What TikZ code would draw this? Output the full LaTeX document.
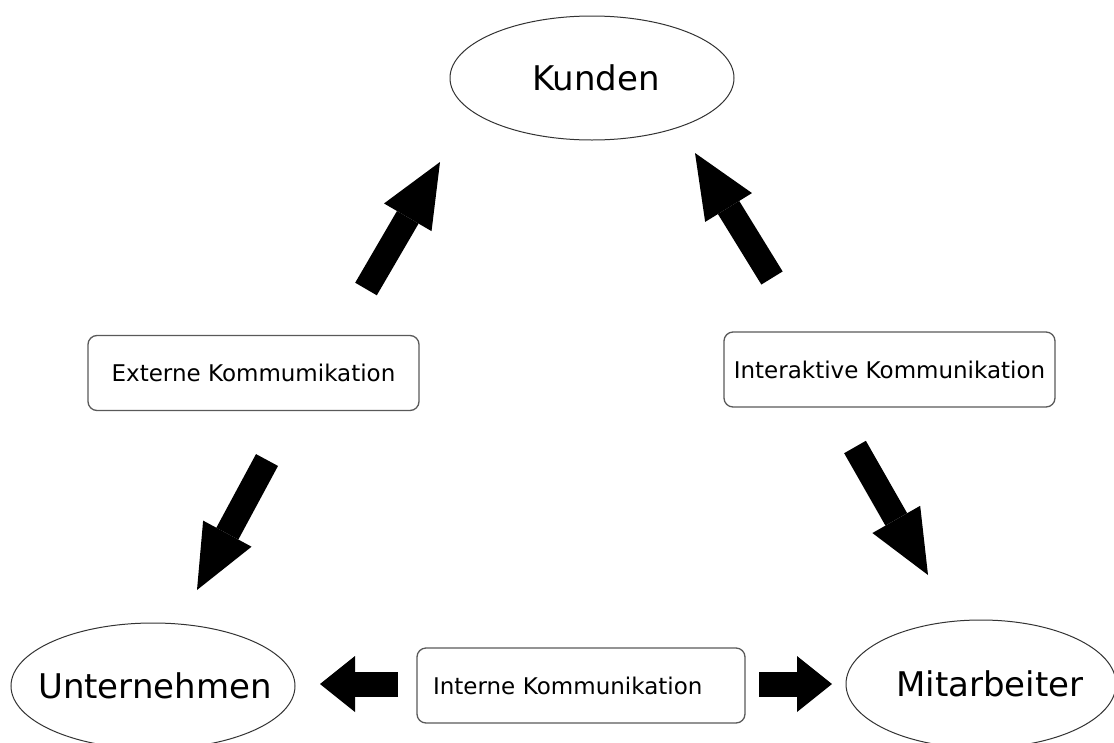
\documentclass[tikz,border=0pt]{standalone}
\usepackage{fontspec}
\setmainfont{DejaVu Sans}
\usepackage{tikz}
\usetikzlibrary{arrows.meta}
\usetikzlibrary{positioning,shapes.geometric}

\tikzset{
  party/.style={ellipse, draw=black!80, line width=1pt, inner sep=0pt,
    font=\fontsize{34}{40}\selectfont},
  kombox/.style={rectangle, draw=black!65, line width=1.3pt, rounded corners=9pt,
    minimum height=75pt, inner sep=0pt, font=\fontsize{23}{28}\selectfont},
  slantarrow/.style={line width=25pt,
    -{Triangle[length=64pt,width=55pt,line width=0pt]}},
  flatarrow/.style={line width=25pt,
    -{Triangle[length=35pt,width=56pt,line width=0pt]}}
}

\begin{document}
\begin{tikzpicture}[x=1pt,y=-1pt]
      \useasboundingbox (0,0) rectangle (1114,742);
      \node[party, minimum width=284pt, minimum height=124pt] (kunden) at (592,78) {\makebox[0pt]{\hspace{8pt}Kunden}};
      \node[party, minimum width=284pt, minimum height=126pt] (unternehmen) at (153,686) {\makebox[0pt]{\hspace{4pt}Unternehmen}};
      \node[party, minimum width=270pt, minimum height=128pt] (mitarbeiter) at (981,684) {\makebox[0pt]{\hspace{18pt}Mitarbeiter}};
      \node[kombox, minimum width=331pt] (extern) at (253.5,373) {Externe Kommumikation};
      \node[kombox, minimum width=331pt] (interaktiv) at (889.5,369.5) {Interaktive Kommunikation};
      \node[kombox, text width=296pt, inner xsep=16pt, align=left] (intern) at (581,685.5) {Interne Kommunikation};
      \coordinate (ext up) at (366,289);
      \coordinate (ext tip) at (440,162);
      \coordinate (int up) at (772,278);
      \coordinate (int tip) at (695,153);
      \coordinate (ext down) at (267,460);
      \coordinate (unt tip) at (197,590);
      \coordinate (int down) at (855,447);
      \coordinate (mit tip) at (928,575);
      \coordinate (intern left) at (398,684);
      \coordinate (left tip) at (320,684);
      \coordinate (intern right) at (759,684);
      \coordinate (right tip) at (832,684);
      \draw[slantarrow] (ext up) -- (ext tip);
      \draw[slantarrow] (int up) -- (int tip);
      \draw[slantarrow] (ext down) -- (unt tip);
      \draw[slantarrow] (int down) -- (mit tip);
      \draw[flatarrow] (intern left) -- (left tip);
      \draw[flatarrow] (intern right) -- (right tip);
    \end{tikzpicture}
\end{document}
